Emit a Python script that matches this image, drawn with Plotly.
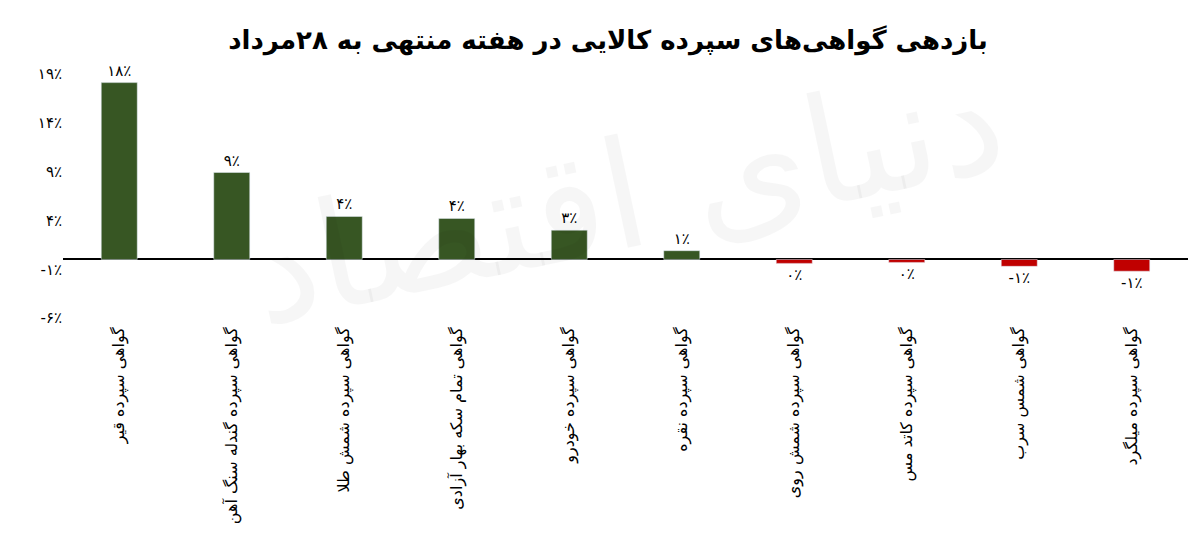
import plotly.graph_objects as go

title = "بازدهی گواهی‌های سپرده کالایی در هفته منتهی به ۲۸مرداد"
categories = [
    "گواهی سپرده قیر",
    "گواهی سپرده گندله سنگ آهن",
    "گواهی سپرده شمش طلا",
    "گواهی تمام سکه بهار آزادی",
    "گواهی سپرده خودرو",
    "گواهی سپرده نقره",
    "گواهی سپرده شمش روی",
    "گواهی سپرده کاتد مس",
    "گواهی شمس سرب",
    "گواهی سپرده میلگرد",
]
values = [18.1, 8.9, 4.4, 4.2, 3.0, 0.9, -0.4, -0.3, -0.7, -1.2]
value_labels = ["۱۸٪", "۹٪", "۴٪", "۴٪", "۳٪", "۱٪", "۰٪", "۰٪", "-۱٪", "-۱٪"]
tick_vals = [19, 14, 9, 4, -1, -6]
tick_text = ["۱۹٪", "۱۴٪", "۹٪", "۴٪", "-۱٪", "-۶٪"]

colors = ["#375623" if v >= 0 else "#c00000" for v in values]

fig = go.Figure(go.Bar(
    x=categories, y=values, marker_color=colors, width=0.32,
    text=value_labels, textposition="outside", cliponaxis=False,
    textfont=dict(size=15, color="black"),
))

# faint watermark
fig.add_annotation(text="دنیای اقتصاد", x=0.5, y=0.5, xref="paper", yref="paper",
                   showarrow=False, textangle=-12,
                   font=dict(size=150, color="rgba(0,0,0,0.035)"))

fig.update_layout(
    width=1200, height=560,
    title=dict(text="<b>" + title + "</b>", x=0.5, y=0.96, xanchor="center",
               font=dict(size=26, color="black")),
    font=dict(family="DejaVu Sans, Noto Sans", color="black"),
    plot_bgcolor="white", paper_bgcolor="white",
    margin=dict(l=55, r=20, t=58, b=245),
    showlegend=False,
)
fig.update_xaxes(tickangle=-90, tickfont=dict(size=16), showline=False,
                 showgrid=False, ticks="")
fig.update_yaxes(range=[-6.5, 19.8], tickvals=tick_vals, ticktext=tick_text,
                 tickfont=dict(size=15), showgrid=False, zeroline=True,
                 zerolinecolor="black", zerolinewidth=1.5, ticks="")

fig.write_html("out.html")
